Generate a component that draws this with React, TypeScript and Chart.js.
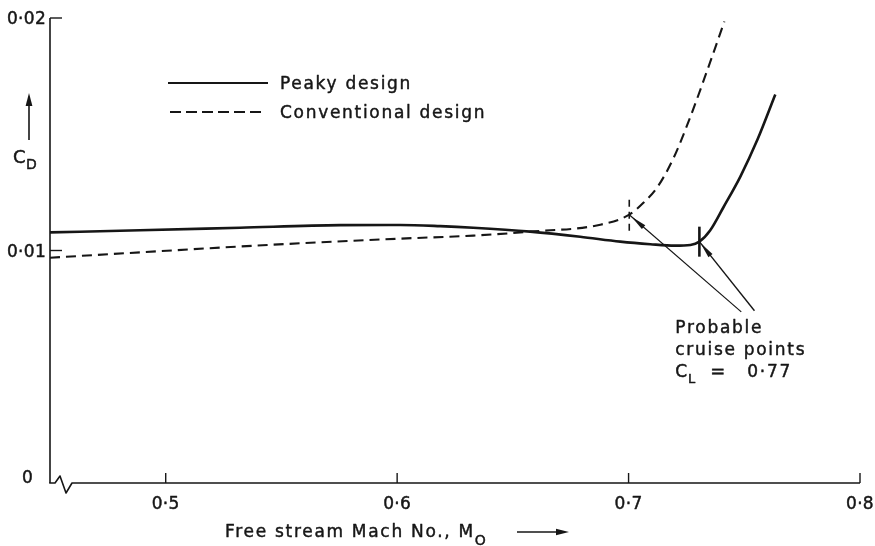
import React, { useEffect, useRef } from "react";
import { Chart, registerables } from "chart.js";
Chart.register(...registerables);

// ---- Data ----
const peakyMach = [0.45, 0.4889, 0.5321, 0.5754, 0.6013, 0.6186, 0.6329, 0.6575, 0.6791, 0.6964, 0.7094, 0.72, 0.7267, 0.7306, 0.7353, 0.741, 0.7483, 0.7557, 0.7634];
const peakyCd = [0.01078, 0.01087, 0.01098, 0.01109, 0.0111, 0.01105, 0.01098, 0.01081, 0.01059, 0.01038, 0.01027, 0.01021, 0.01024, 0.01038, 0.01087, 0.01186, 0.01318, 0.01477, 0.01671];
const convMach = [0.45, 0.5464, 0.6013, 0.6329, 0.6575, 0.6878, 0.7003, 0.7064, 0.7124, 0.7193, 0.7267, 0.734, 0.7414];
const convCd = [0.00969, 0.01025, 0.01051, 0.01064, 0.01081, 0.01111, 0.01154, 0.01205, 0.01272, 0.01395, 0.01575, 0.01775, 0.01985];

// cruise points: [conventional, peaky]
const cruiseMach = [0.7003, 0.7306];
const cruiseCd = [0.01154, 0.01038];
// arrow tails (near the note)
const tailMach = [0.7487, 0.7544];
const tailCd = [0.00736, 0.00741];
// note anchor
const noteMach = 0.7202;
const noteCd = 0.00646;
const noteLines = ["Probable", "cruise points"];
const noteCl = "0·77";

const xTickValues = [0.5, 0.6, 0.7, 0.8];
const xTickLabels = ["0·5", "0·6", "0·7", "0·8"];
const yTickValues = [0, 0.01, 0.02];
const yTickLabels = ["0", "0·01", "0·02"];

const seriesNames = ["Peaky design", "Conventional design"];
const xTitle = "Free stream Mach No., M";
const xTitleSub = "O";
const yTitle = "C";
const yTitleSub = "D";

const FONT = '"DejaVu Sans"';
const INK = "#161616";

function setFont(ctx: CanvasRenderingContext2D, size: number, spacing = 1.7) {
  ctx.font = `${size}px ${FONT}`;
  (ctx as any).letterSpacing = `${spacing}px`;
}

function text(ctx: CanvasRenderingContext2D, s: string, x: number, y: number) {
  ctx.fillText(s, x, y);
  ctx.strokeText(s, x, y);
  return ctx.measureText(s).width;
}

function drawArrowHead(ctx: CanvasRenderingContext2D, fx: number, fy: number, tx: number, ty: number, len: number, hw: number) {
  const a = Math.atan2(ty - fy, tx - fx);
  const bx = tx - len * Math.cos(a);
  const by = ty - len * Math.sin(a);
  ctx.beginPath();
  ctx.moveTo(tx, ty);
  ctx.lineTo(bx + hw * Math.sin(a), by - hw * Math.cos(a));
  ctx.lineTo(bx - hw * Math.sin(a), by + hw * Math.cos(a));
  ctx.closePath();
  ctx.fill();
}

const decor = {
  id: "decor",
  afterDraw(chart: any) {
    const ctx: CanvasRenderingContext2D = chart.ctx;
    const xs = chart.scales.x;
    const ys = chart.scales.y;
    const { left, right, top, bottom } = chart.chartArea;
    ctx.save();
    ctx.strokeStyle = INK;
    ctx.fillStyle = INK;
    ctx.lineCap = "butt";
    ctx.lineJoin = "round";

    // y axis
    ctx.lineWidth = 1.6;
    ctx.beginPath();
    ctx.moveTo(left, top);
    ctx.lineTo(left, bottom);
    ctx.stroke();
    // x axis with break
    ctx.beginPath();
    ctx.moveTo(left - 0.8, bottom);
    ctx.lineTo(left + 5, bottom);
    ctx.lineTo(left + 10, bottom - 7);
    ctx.lineTo(left + 16, bottom + 10);
    ctx.lineTo(left + 22, bottom);
    ctx.lineTo(right, bottom);
    ctx.stroke();

    // ticks
    ctx.lineWidth = 1.4;
    xTickValues.forEach((v) => {
      const px = xs.getPixelForValue(v);
      ctx.beginPath();
      ctx.moveTo(px, bottom);
      ctx.lineTo(px, bottom - 10);
      ctx.stroke();
    });
    yTickValues.forEach((v) => {
      if (v === 0) return;
      const py = ys.getPixelForValue(v);
      ctx.beginPath();
      ctx.moveTo(left, py);
      ctx.lineTo(left + 12, py);
      ctx.stroke();
    });

    // tick labels
    ctx.lineWidth = 0.45;
    setFont(ctx, 17, 0.3);
    ctx.textBaseline = "alphabetic";
    ctx.textAlign = "center";
    xTickValues.forEach((v, i) => {
      text(ctx, xTickLabels[i], xs.getPixelForValue(v), bottom + 26);
    });
    ctx.textAlign = "right";
    yTickValues.forEach((v, i) => {
      const py = ys.getPixelForValue(v);
      if (v === 0) text(ctx, yTickLabels[i], left - 17, py);
      else text(ctx, yTickLabels[i], left - 4, py + 6);
    });
    ctx.textAlign = "left";

    // cruise markers
    const cx0 = xs.getPixelForValue(cruiseMach[0]);
    const cy0 = ys.getPixelForValue(cruiseCd[0]);
    ctx.lineWidth = 1.6;
    ctx.setLineDash([7, 5]);
    ctx.beginPath();
    ctx.moveTo(cx0, cy0 - 15);
    ctx.lineTo(cx0, cy0 + 17);
    ctx.stroke();
    ctx.setLineDash([]);
    const cx1 = xs.getPixelForValue(cruiseMach[1]);
    const cy1 = ys.getPixelForValue(cruiseCd[1]);
    ctx.lineWidth = 2.6;
    ctx.beginPath();
    ctx.moveTo(cx1, cy1 - 15);
    ctx.lineTo(cx1, cy1 + 15);
    ctx.stroke();

    // arrows from note to cruise points
    for (let i = 0; i < 2; i++) {
      const tx = xs.getPixelForValue(cruiseMach[i]);
      const ty = ys.getPixelForValue(cruiseCd[i]);
      const fx = xs.getPixelForValue(tailMach[i]);
      const fy = ys.getPixelForValue(tailCd[i]);
      ctx.lineWidth = i === 0 ? 1.2 : 1.4;
      ctx.beginPath();
      ctx.moveTo(fx, fy);
      ctx.lineTo(tx, ty);
      ctx.stroke();
      drawArrowHead(ctx, fx, fy, tx + (fx - tx) * 0.02, ty + (fy - ty) * 0.02, 16, 2.6);
    }

    // note text
    const nx = xs.getPixelForValue(noteMach);
    const ny = ys.getPixelForValue(noteCd);
    ctx.lineWidth = 0.45;
    setFont(ctx, 17);
    text(ctx, noteLines[0], nx, ny);
    text(ctx, noteLines[1], nx, ny + 22);
    const w = text(ctx, "C", nx, ny + 44);
    setFont(ctx, 13, 1);
    text(ctx, "L", nx + w - 1, ny + 50);
    setFont(ctx, 18, 0);
    text(ctx, "=", nx + 35, ny + 44);
    setFont(ctx, 17);
    text(ctx, noteCl, nx + 72, ny + 44);

    // legend
    ctx.lineWidth = 2;
    ctx.beginPath();
    ctx.moveTo(168, 83);
    ctx.lineTo(268, 83);
    ctx.stroke();
    ctx.setLineDash([11, 5]);
    ctx.lineWidth = 1.8;
    ctx.beginPath();
    ctx.moveTo(170, 112);
    ctx.lineTo(262, 112);
    ctx.stroke();
    ctx.setLineDash([]);
    ctx.lineWidth = 0.45;
    setFont(ctx, 17);
    text(ctx, seriesNames[0], 280, 89);
    text(ctx, seriesNames[1], 280, 118);

    // x title
    setFont(ctx, 17);
    const xw = text(ctx, xTitle, 225, 537);
    setFont(ctx, 14, 0);
    text(ctx, xTitleSub, 225 + xw, 545);
    ctx.lineWidth = 1.6;
    ctx.beginPath();
    ctx.moveTo(517, 532);
    ctx.lineTo(560, 532);
    ctx.stroke();
    drawArrowHead(ctx, 517, 532, 569, 532, 13, 3.2);

    // y title
    ctx.lineWidth = 1.6;
    ctx.beginPath();
    ctx.moveTo(29, 140);
    ctx.lineTo(29, 102);
    ctx.stroke();
    drawArrowHead(ctx, 29, 140, 29, 93, 13, 3.4);
    ctx.lineWidth = 0.45;
    setFont(ctx, 18, 0);
    text(ctx, yTitle, 13, 163);
    setFont(ctx, 14, 0);
    text(ctx, yTitleSub, 26, 169);

    ctx.restore();
  },
};

export default function App() {
  const ref = useRef<HTMLCanvasElement>(null);
  useEffect(() => {
    const peaky = peakyMach.map((m, i) => ({ x: m, y: peakyCd[i] }));
    const conv = convMach.map((m, i) => ({ x: m, y: convCd[i] }));
    const chart = new Chart(ref.current!, {
      type: "scatter",
      data: {
        datasets: [
          {
            label: seriesNames[0],
            data: peaky,
            showLine: true,
            borderColor: INK,
            backgroundColor: INK,
            borderWidth: 2.6,
            pointRadius: 0,
            cubicInterpolationMode: "monotone",
          },
          {
            label: seriesNames[1],
            data: conv,
            showLine: true,
            borderColor: INK,
            backgroundColor: INK,
            borderWidth: 2.1,
            borderDash: [10, 6],
            pointRadius: 0,
            cubicInterpolationMode: "monotone",
          },
        ],
      },
      options: {
        responsive: false,
        animation: false,
        devicePixelRatio: 1,
        layout: { padding: { top: 18, right: 15, left: 0, bottom: 0 } },
        plugins: { legend: { display: false }, title: { display: false }, tooltip: { enabled: false } },
        scales: {
          x: {
            type: "linear",
            min: 0.45,
            max: 0.8,
            afterBuildTicks: (s: any) => {
              s.ticks = xTickValues.map((v) => ({ value: v }));
            },
            afterFit: (s: any) => {
              s.height = 63;
            },
            ticks: { display: false },
            grid: { display: false, drawTicks: false },
            border: { display: false },
          },
          y: {
            type: "linear",
            min: 0,
            max: 0.02,
            afterBuildTicks: (s: any) => {
              s.ticks = yTickValues.map((v) => ({ value: v }));
            },
            afterFit: (s: any) => {
              s.width = 50;
            },
            ticks: { display: false },
            grid: { display: false, drawTicks: false },
            border: { display: false },
          },
        },
      },
      plugins: [decor],
    });
    return () => chart.destroy();
  }, []);
  return (
    <div style={{ position: "fixed", left: 0, top: 0, width: 875, height: 546, background: "#fff" }}>
      <canvas ref={ref} width={875} height={546} style={{ display: "block", width: 875, height: 546 }} />
    </div>
  );
}
